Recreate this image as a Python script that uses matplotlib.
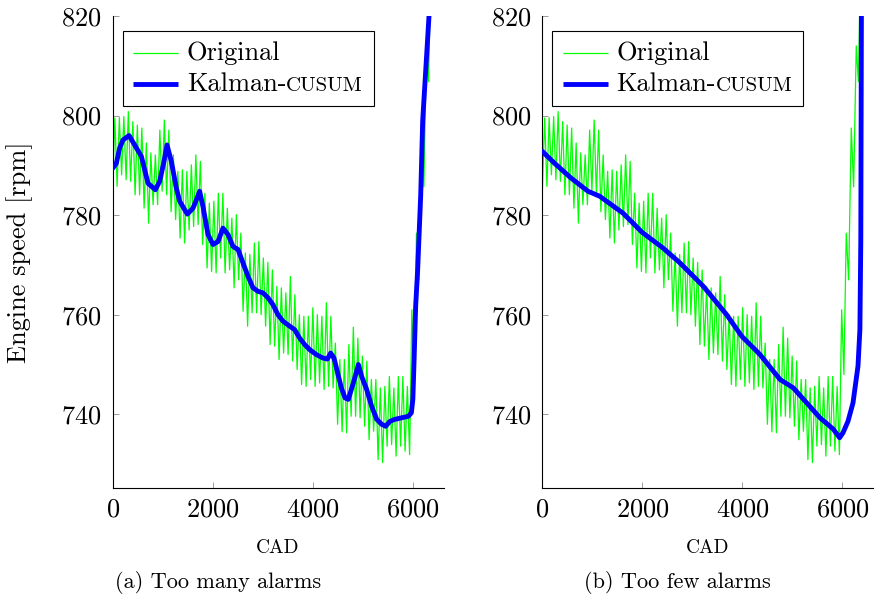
import numpy as np
import matplotlib
matplotlib.use("Agg")
import matplotlib.pyplot as plt
from matplotlib.lines import Line2D
from matplotlib.offsetbox import AnchoredOffsetbox, DrawingArea, TextArea, HPacker, VPacker

plt.rcParams['font.family'] = ['cmr10', 'DejaVu Serif']
plt.rcParams['mathtext.fontset'] = 'cm'
plt.rcParams['axes.formatter.use_mathtext'] = True

# ---------------- data ----------------
# Original signal: troughs at CAD 0, 90, 180, ...; peaks half a period later
GREEN_STEP = 45
GREEN_TROUGHS = [785.1, 785.8, 788.1, 787.1, 786.8, 784.1, 784.1, 781.4, 778.4, 782.1,
                 782.1, 784.8, 784.1, 780.7, 779.1, 775.4, 774.4, 777.0, 777.7, 778.1,
                 774.1, 769.4, 768.7, 768.4, 771.4, 768.4, 769.0, 765.4, 767.0, 760.7,
                 757.7, 760.4, 760.4, 760.0, 757.7, 754.0, 753.7, 751.0, 752.3, 752.0,
                 750.7, 749.0, 746.0, 745.6, 747.0, 745.6, 746.3, 745.0, 745.6, 745.3,
                 738.0, 736.5, 736.3, 739.6, 739.6, 739.3, 737.6, 734.9, 736.6, 730.9,
                 730.3, 733.6, 733.9, 731.6, 733.6, 732.6, 731.9]
GREEN_PEAKS = [799.5, 799.6, 799.8, 800.8, 798.8, 798.1, 797.5, 794.5, 792.5, 792.1,
               797.1, 799.1, 797.1, 792.1, 788.8, 789.1, 788.8, 790.1, 792.1, 790.8,
               784.4, 782.4, 782.8, 784.4, 784.4, 781.4, 779.4, 780.1, 776.4, 772.4,
               772.1, 774.4, 774.7, 771.4, 770.5, 769.0, 765.7, 765.4, 764.4, 767.7,
               764.0, 760.0, 759.7, 759.7, 761.4, 760.0, 759.7, 762.4, 759.7, 754.3,
               751.0, 751.0, 754.0, 757.5, 755.3, 751.7, 750.7, 747.0, 747.0, 745.3,
               745.6, 747.6, 745.3, 747.6, 747.6, 745.6, 761.0]
RISE_CAD = [6030, 6077, 6125, 6177, 6225, 6277, 6320, 6380]
RISE_RPM = [748.0, 776.4, 767.0, 797.5, 785.7, 814.0, 806.8, 840.0]

# Kalman-CUSUM, (a) too many alarms
LEFT_CAD = [0, 75, 141, 208, 328, 441, 575, 708, 855, 941, 1028, 1088, 1175, 1275, 1341,
            1495, 1608, 1675, 1741, 1808, 1908, 2008, 2108, 2208, 2308, 2408, 2508, 2608,
            2708, 2808, 2908, 3008, 3108, 3208, 3308, 3408, 3541, 3641, 3741, 3841, 3941,
            4074, 4208, 4295, 4361, 4428, 4508, 4575, 4648, 4715, 4815, 4915, 4981, 5081,
            5181, 5281, 5381, 5461, 5548, 5648, 5781, 5915, 5975, 6005, 6030, 6061, 6101,
            6162, 6202, 6328, 6400]
LEFT_RPM = [789.4, 790.4, 793.5, 795.1, 796.0, 794.1, 791.8, 786.4, 785.1, 786.8, 790.8,
            794.1, 790.8, 785.4, 782.8, 780.2, 781.4, 783.1, 784.8, 781.7, 776.1, 774.1,
            774.7, 777.4, 776.1, 773.7, 773.1, 770.4, 767.7, 765.4, 764.7, 764.4, 763.4,
            762.0, 760.0, 758.7, 757.7, 757.0, 755.3, 754.0, 753.0, 752.0, 751.3, 751.1,
            752.3, 751.3, 748.0, 745.3, 743.3, 743.0, 746.3, 750.0, 747.6, 745.0, 741.6,
            739.0, 738.0, 737.6, 738.6, 739.0, 739.3, 739.6, 740.3, 743.0, 751.0, 761.7,
            769.0, 784.0, 799.0, 820.0, 832.0]

# Kalman-CUSUM, (b) too few alarms
RIGHT_CAD = [0, 245, 579, 912, 1146, 1379, 1613, 2000, 2400, 2752, 3219, 3685, 3985,
             4352, 4752, 5019, 5285, 5552, 5819, 5945, 6012, 6112, 6212, 6312, 6350,
             6368, 6380, 6392]
RIGHT_RPM = [792.8, 790.4, 787.4, 784.8, 783.8, 782.1, 780.4, 776.5, 773.5, 770.4, 765.7,
             760.0, 755.7, 752.0, 747.0, 745.3, 742.3, 739.3, 737.0, 735.3, 736.3, 738.6,
             742.3, 749.7, 757.0, 775.0, 820.0, 835.0]

X_TICKS = [0, 2000, 4000, 6000]
Y_TICKS = [740, 760, 780, 800, 820]
CAPTIONS = ['(a) Too many alarms', '(b) Too few alarms']

GREEN = '#00ff00'
BLUE = '#0000ff'
FS = 19

# build original signal
green_y = np.empty(2 * len(GREEN_TROUGHS))
green_y[0::2] = GREEN_TROUGHS
green_y[1::2] = GREEN_PEAKS
green_x = np.arange(len(green_y)) * GREEN_STEP
green_x = np.concatenate([green_x, RISE_CAD])
green_y = np.concatenate([green_y, RISE_RPM])

fig = plt.figure(figsize=(8.74, 6.01), dpi=100)
W, H = 874, 601
ax1 = fig.add_axes([112.6 / W, 113 / H, 331 / W, 472 / H])
ax2 = fig.add_axes([542.4 / W, 113 / H, 331 / W, 472 / H])


def make_legend(ax):
    def handle(color, lw):
        da = DrawingArea(32.5, 12, 0, 0)
        da.add_artist(Line2D([0, 32.5], [6, 6], color=color, lw=lw, solid_capstyle='butt'))
        return da
    row1 = HPacker(children=[handle(GREEN, 0.9),
                             TextArea('Original', textprops=dict(fontsize=FS))],
                   sep=6, align='center', pad=0)
    kal = HPacker(children=[TextArea('Kalman-', textprops=dict(fontsize=FS)),
                            TextArea('CUSUM', textprops=dict(fontsize=15))],
                  sep=0, align='baseline', pad=0)
    row2 = HPacker(children=[handle(BLUE, 3.5), kal], sep=6, align='center', pad=0)
    box = VPacker(children=[row1, row2], sep=5, align='left', pad=0)
    anch = AnchoredOffsetbox(loc='upper left', child=box, pad=0.4, borderpad=0,
                             frameon=True, bbox_to_anchor=(0.0305, 0.969),
                             bbox_transform=ax.transAxes, prop=dict(size=FS))
    anch.patch.set_boxstyle('square', pad=0)
    anch.patch.set_edgecolor('black')
    anch.patch.set_linewidth(0.8)
    anch.zorder = 5
    ax.add_artist(anch)


for ax, (bx, by), cap, capx in [(ax1, (LEFT_CAD, LEFT_RPM), CAPTIONS[0], 218),
                                (ax2, (RIGHT_CAD, RIGHT_RPM), CAPTIONS[1], 677)]:
    ax.plot(green_x, green_y, color=GREEN, lw=0.9, zorder=2)
    ax.plot(bx, by, color=BLUE, lw=3.5, solid_joinstyle='round', solid_capstyle='round', zorder=3)
    ax.set_xlim(0, 6620)
    ax.set_ylim(725.2, 820)
    ax.set_xticks(X_TICKS)
    ax.set_yticks(Y_TICKS)
    ax.spines['top'].set_visible(False)
    ax.spines['right'].set_visible(False)
    for s in ('left', 'bottom'):
        ax.spines[s].set_linewidth(0.8)
        ax.spines[s].set_color('black')
    ax.tick_params(direction='in', length=4.3, width=0.6, color='0.55',
                   labelsize=FS, top=False, right=False)
    ax.tick_params(axis='x', pad=7)
    ax.tick_params(axis='y', pad=8)
    ax.set_xlabel('CAD', fontsize=14, va='center')
    ax.xaxis.set_label_coords(0.5, -(548 - 488) / 472)
    make_legend(ax)
    fig.text(capx / W, 1 - 583 / H, cap, fontsize=16, ha='center', va='center')

ax1.set_ylabel('Engine speed [rpm]', fontsize=FS, va='center', ha='center')
ax1.yaxis.set_label_coords(-(112.6 - 20) / 331, 0.5)

fig.savefig('out.png', dpi=100)
